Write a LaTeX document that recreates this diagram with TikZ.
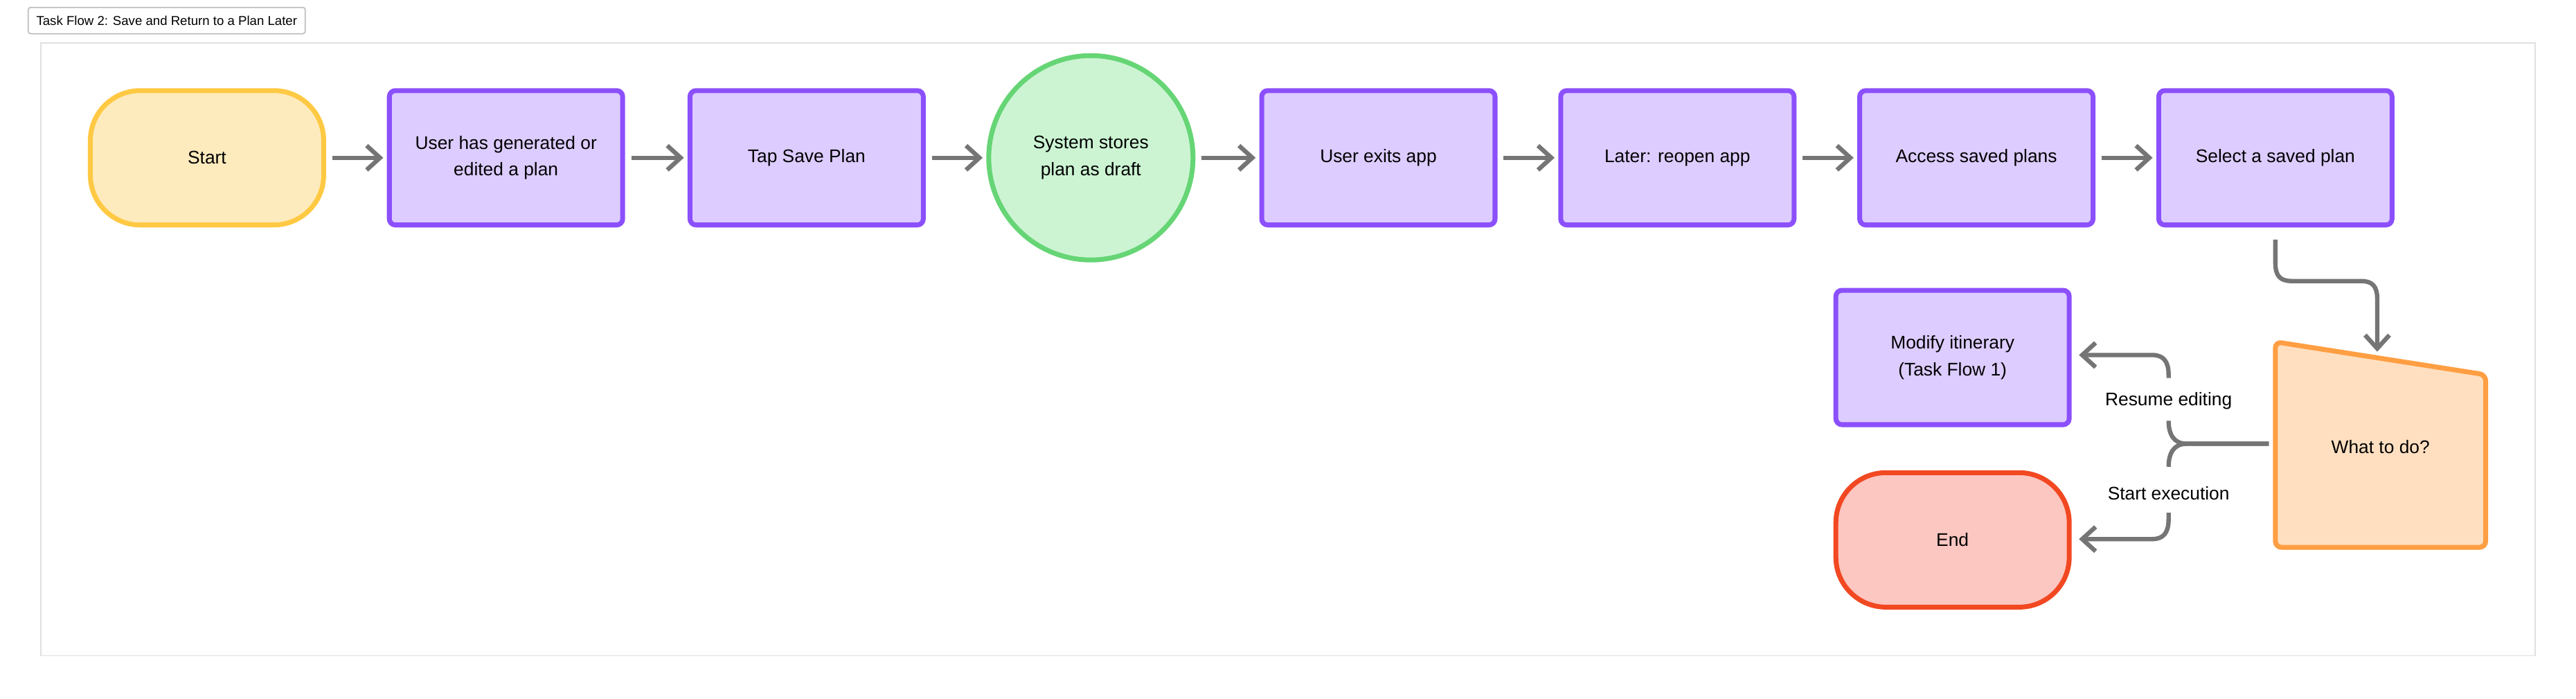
\documentclass[tikz,border=0pt]{standalone}
\usepackage{fontspec}
\setmainfont{Liberation Sans}
\usetikzlibrary{arrows.meta,positioning}

\definecolor{startfill}{HTML}{FEEBBD}
\definecolor{startline}{HTML}{FFC943}
\definecolor{stepfill}{HTML}{DDCCFF}
\definecolor{stepline}{HTML}{8B50FC}
\definecolor{storefill}{HTML}{CCF4D3}
\definecolor{storeline}{HTML}{66D575}
\definecolor{askfill}{HTML}{FFDFC0}
\definecolor{askline}{HTML}{FF9E42}
\definecolor{endfill}{HTML}{FCC6C1}
\definecolor{endline}{HTML}{F24822}
\definecolor{flowgray}{HTML}{757575}

\tikzset{
  planstep/.style={draw=stepline,fill=stepfill,line width=2pt,rounded corners=2.5pt,
    minimum width=3.37cm,minimum height=1.94cm,align=center,font=\fontsize{7.5}{11}\selectfont},
  term/.style={planstep,rounded corners=0.72cm},
  flow/.style={draw=flowgray,line width=1.8pt,-{Straight Barb[length=5.5pt,width=10pt]}},
  plain/.style={draw=flowgray,line width=1.8pt},
  lbl/.style={font=\fontsize{7.5}{9}\selectfont,fill=white,inner sep=1pt}
}

\begin{document}
\begin{tikzpicture}[x=0.02372cm,y=-0.02372cm]
        \useasboundingbox (0,0) rectangle (1568,425);
        \fill[white] (0,0) rectangle (1568,425);
        % frame and title
        \draw[black!12,line width=0.5pt] (25,26) rectangle (1543,399);
        \node[draw=black!25,rounded corners=1pt,line width=0.5pt,minimum width=3.62cm,minimum height=0.38cm,
          font=\fontsize{5.3}{6}\selectfont](title)at(101.5,12.5){Task Flow 2: Save and Return to a Plan Later};
        % main row
        \node[term,draw=startline,fill=startfill](start)at(126,96){Start};
        \node[planstep](made)at(308,96){User has generated or\\edited a plan};
        \node[planstep](save)at(491,96){Tap Save Plan};
        \node[circle,draw=storeline,fill=storefill,line width=2pt,minimum size=2.95cm,align=center,
          font=\fontsize{7.5}{11}\selectfont](store)at(664,96){System stores\\plan as draft};
        \node[planstep](exit)at(839,96){User exits app};
        \node[planstep](reopen)at(1021,96){Later: reopen app};
        \node[planstep](access)at(1203,96){Access saved plans};
        \node[planstep](select)at(1385,96){Select a saved plan};
        % decision
        \filldraw[draw=askline,fill=askfill,line width=2pt,rounded corners=2.5pt]
          (1385,208) -- (1513,228) -- (1513,333) -- (1385,333) -- cycle;
        \node[font=\fontsize{7.5}{9}\selectfont](ask)at(1449,272){What to do?};
        \node[planstep](modify)at(1188.5,217.5){Modify itinerary\\(Task Flow 1)};
        \node[term,draw=endline,fill=endfill](finish)at(1188.5,328.5){End};
        \coordinate(asktop)at(1447,214);
        \coordinate(askleft)at(1381,270);
        % connectors
        \foreach \a/\b in {start/made,made/save,save/store,store/exit,exit/reopen,reopen/access,access/select}
          \draw[flow,shorten <=2.5pt,shorten >=1.5pt](\a)--(\b);
        \draw[flow]([yshift=-5pt]select.south) -- (1385,160) .. controls (1385,168) and (1388,171) .. (1395,171)
          -- (1437,171) .. controls (1444,171) and (1447,174) .. (1447,182) -- (asktop);
        \draw[plain](askleft) -- (1331,270) .. controls (1323,270) and (1320,264) .. (1320,256);
        \draw[plain](askleft) -- (1331,270) .. controls (1323,270) and (1320,276) .. (1320,284);
        \node[lbl](resume)at(1320,244){Resume editing};
        \node[lbl](run)at(1320,300){Start execution};
        \draw[flow](1320,230) -- (1320,228) .. controls (1320,220) and (1317,216) .. (1310,216)
          -- ([xshift=3pt]modify.east|-0,216);
        \draw[flow](1320,312) -- (1320,316) .. controls (1320,324) and (1317,328) .. (1310,328)
          -- ([xshift=3pt]finish.east|-0,328);
\end{tikzpicture}
\end{document}
